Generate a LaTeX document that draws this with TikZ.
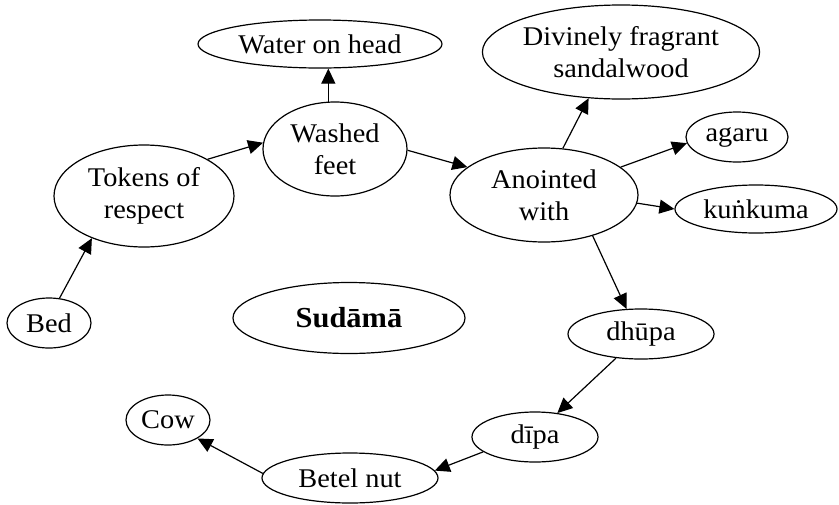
\documentclass[tikz,border=0pt]{standalone}
\usepackage{fontspec}
\setmainfont{Liberation Serif}[FakeStretch=1.05]
\usetikzlibrary{shapes.geometric,arrows.meta}
\begin{document}
\begin{tikzpicture}[x=1pt,y=-1pt,
  bub/.style={ellipse,draw,line width=1.2pt,inner sep=0pt,align=center,
    font=\fontsize{27}{32}\selectfont},
  link/.style={line width=1.2pt,-{Triangle[length=15pt,width=14pt]}}]
\useasboundingbox (0,0) rectangle (839,504);
% concept bubbles
\node[bub,minimum width=244pt,minimum height=48pt] (water)  at (320,44)  {Water on head};
\node[bub,minimum width=144pt,minimum height=94pt] (wash)   at (335,149) {Washed\\feet};
\node[bub,minimum width=180pt,minimum height=102pt] (tok)   at (144,196) {Tokens of\\respect};
\node[bub,minimum width=84pt,minimum height=50pt]  (bed)    at (49,323)  {Bed};
\node[bub,minimum width=232pt,minimum height=71pt] (sud)    at (349,318) {\fontsize{29}{32}\selectfont\bfseries Sudāmā};
\node[bub,minimum width=188pt,minimum height=94pt] (anoint) at (544,195) {Anointed\\with};
\node[bub,minimum width=266pt,minimum height=94pt] (sandal) at (621,52)  {Divinely fragrant\\sandalwood};
\node[bub,minimum width=102pt,minimum height=50pt] (agaru)  at (737,137) {agaru};
\node[bub,minimum width=162pt,minimum height=48pt] (kunk)   at (756,209) {kuṅkuma};
\node[bub,minimum width=146pt,minimum height=50pt] (dhupa)  at (641,334) {dhūpa};
\node[bub,minimum width=126pt,minimum height=50pt] (dipa)   at (535,437) {dīpa};
\node[bub,minimum width=176pt,minimum height=50pt] (betel)  at (350,478) {Betel nut};
\node[bub,minimum width=84pt,minimum height=50pt]  (cow)    at (168,420) {Cow};
% connectors
\draw[link] (bed.67)     -- (tok.219);
\draw[link] (tok.30)     -- (wash.175);
\draw[link] (wash.98)    -- (wash.98 |- water.south);
\draw[link] (wash.359)   -- (anoint.160);
\draw[link] (anoint.68)  -- (sandal.235);
\draw[link] (anoint.20)  -- (agaru.187);
\draw[link] (anoint.355) -- (kunk.180);
\draw[link] (anoint.320) -- (dhupa.120);
\draw[link] (dhupa.224)  -- (dipa.47);
\draw[link] (dipa.196)   -- (betel.5);
\draw[link] (betel.177)  -- (cow.328);
\end{tikzpicture}
\end{document}
